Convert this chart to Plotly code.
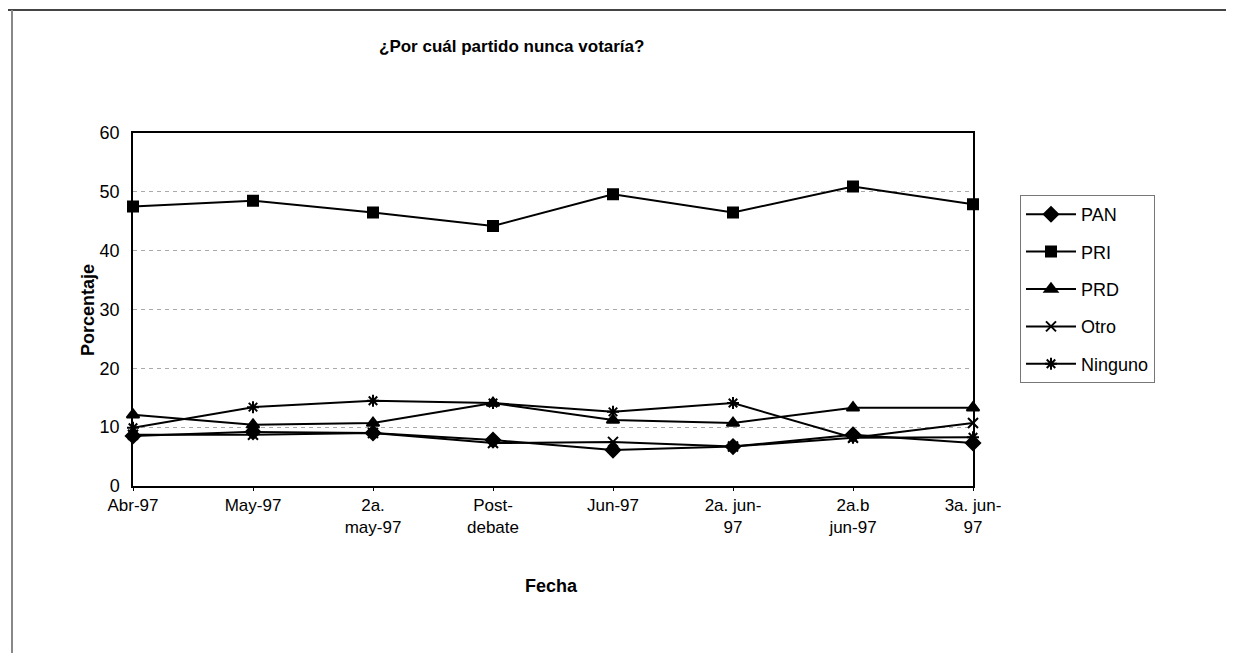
import plotly.graph_objects as go

categories = ["Abr-97", "May-97", "2a.<br>may-97", "Post-<br>debate", "Jun-97",
              "2a. jun-<br>97", "2a.b<br>jun-97", "3a. jun-<br>97"]
pan = [8.5, 9.2, 9.0, 7.8, 6.1, 6.7, 8.7, 7.3]
pri = [47.5, 48.5, 46.5, 44.2, 49.6, 46.5, 50.9, 47.9]
prd = [12.1, 10.4, 10.7, 14.1, 11.2, 10.7, 13.3, 13.3]
otro = [8.7, 8.7, 9.0, 7.3, 7.5, 6.7, 8.2, 10.7]
ninguno = [9.9, 13.4, 14.5, 14.1, 12.6, 14.1, 8.2, 8.3]

series = [("PAN", pan, "diamond", 11),
          ("PRI", pri, "square", 10),
          ("PRD", prd, "triangle-up", 11),
          ("Otro", otro, "x-thin-open", 10),
          ("Ninguno", ninguno, "asterisk-open", 10)]

fig = go.Figure()
for name, vals, sym, sz in series:
    fig.add_trace(go.Scatter(
        x=categories, y=vals, name=name, mode="lines+markers",
        line=dict(color="black", width=2),
        marker=dict(symbol=sym, size=sz, color="black",
                    line=dict(color="black", width=2)),
        cliponaxis=False, legendgroup=name))

# page body has an 8px margin; work in screen coordinates and convert
OFF = 8
W, H = 1234 - OFF, 653 - OFF
L, R, T, B = 133 - OFF, 973 - OFF, 133 - OFF, 486 - OFF
pw, ph = R - L, B - T

def px(x):
    return (x - OFF - L) / pw

def py(y):
    return (B - (y - OFF)) / ph

font = "Liberation Sans, Arial, sans-serif"

fig.update_layout(
    width=W, height=H,
    margin=dict(l=L, r=W - R, t=T, b=H - B),
    paper_bgcolor="white", plot_bgcolor="white",
    font=dict(family=font, size=17, color="black"),
    showlegend=True,
    legend=dict(x=px(1020), y=py(195), xanchor="left", yanchor="top",
                bordercolor="#777777", borderwidth=1,
                font=dict(size=18), tracegroupgap=11,
                itemwidth=50),
    xaxis=dict(type="category", range=[0, 7], showgrid=False,
               showline=True, linecolor="black", linewidth=1.5, mirror=True,
               ticks="outside", ticklen=3, tickcolor="black",
               tickfont=dict(size=17)),
    yaxis=dict(range=[0, 60], dtick=10, showgrid=True, gridcolor="#aaaaaa",
               griddash="4px,4px", gridwidth=1, zeroline=False,
               showline=True, linecolor="black", linewidth=1.5, mirror=True,
               ticks="", tickfont=dict(size=18), ticklabelstandoff=8),
    annotations=[
        dict(text="<b>¿Por cuál partido nunca votaría?</b>", x=px(511), y=py(47),
             xref="paper", yref="paper", showarrow=False,
             font=dict(size=17), xanchor="center", yanchor="middle"),
        dict(text="<b>Fecha</b>", x=px(551), y=py(586), xref="paper", yref="paper",
             showarrow=False, font=dict(size=18), xanchor="center", yanchor="middle"),
        dict(text="<b>Porcentaje</b>", x=px(88), y=py(310), xref="paper", yref="paper",
             showarrow=False, font=dict(size=18), textangle=-90,
             xanchor="center", yanchor="middle"),
    ],
    shapes=[
        dict(type="line", xref="paper", yref="paper", x0=px(3), x1=px(1234),
             y0=py(10), y1=py(10), line=dict(color="#444444", width=2)),
        dict(type="line", xref="paper", yref="paper", x0=px(12), x1=px(12),
             y0=py(10), y1=py(653), line=dict(color="#888888", width=2)),
    ],
)

fig.write_html("out.html")
